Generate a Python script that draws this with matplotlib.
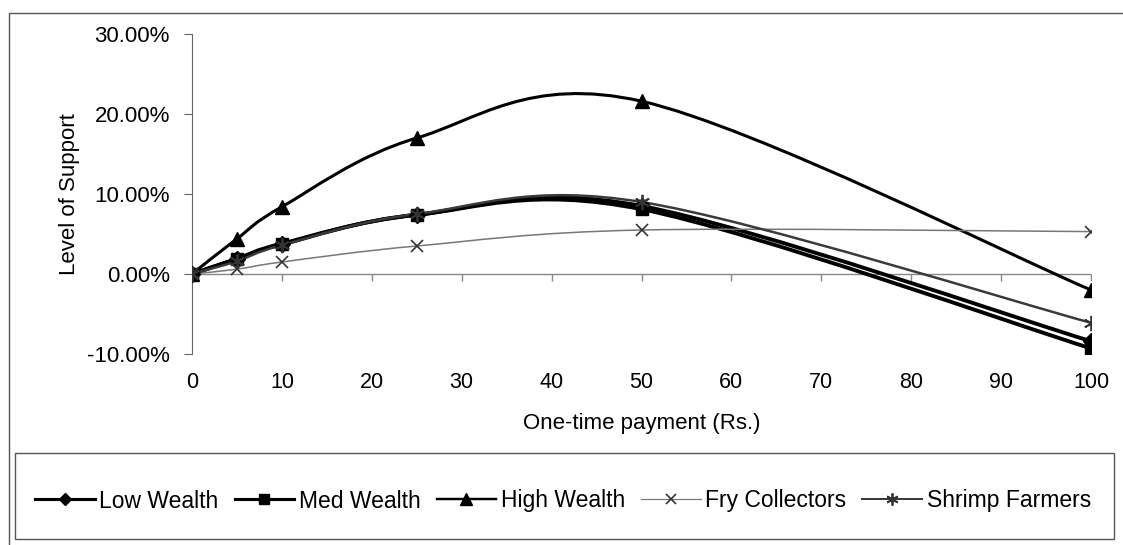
import matplotlib
matplotlib.use("Agg")
import matplotlib.pyplot as plt
from matplotlib.path import Path
from matplotlib.patches import PathPatch, Rectangle
from matplotlib.lines import Line2D
from matplotlib.ticker import FuncFormatter

plt.rcParams['font.family'] = ['Liberation Sans', 'DejaVu Sans']

# one-time payment (Rs.)
payment = [0, 5, 10, 25, 50, 100]
# level of support (%)
low_wealth = [0.0, 1.9, 3.8, 7.4, 8.5, -8.4]
med_wealth = [0.0, 1.9, 3.7, 7.4, 8.1, -9.3]
high_wealth = [0.0, 4.4, 8.4, 17.0, 21.6, -2.0]
fry_collectors = [0.0, 0.6, 1.5, 3.5, 5.5, 5.3]
shrimp_farmers = [0.0, 1.6, 3.6, 7.5, 9.0, -6.1]

series_names = ['Low Wealth', 'Med Wealth', 'High Wealth', 'Fry Collectors', 'Shrimp Farmers']
series_values = [low_wealth, med_wealth, high_wealth, fry_collectors, shrimp_farmers]
y_ticks = [-10, 0, 10, 20, 30]
x_ticks = [0, 10, 20, 30, 40, 50, 60, 70, 80, 90, 100]

styles = [
    dict(color='black', lw=2.8, marker='D', ms=8, mfc='black', mec='black'),
    dict(color='black', lw=2.8, marker='s', ms=9, mfc='black', mec='black'),
    dict(color='black', lw=2.2, marker='^', ms=10, mfc='black', mec='black'),
    dict(color='#777777', lw=1.1, marker='x', ms=9, mfc='none', mec='#333333', mew=1.2),
    dict(color='#3a3a3a', lw=1.8, marker=(6, 2, 0), ms=11, mfc='none', mec='#333333', mew=1.3),
]


def smooth_path(xs, ys):
    # Excel-style smoothed line: cubic bezier through every point
    pts = list(zip(xs, ys))
    n = len(pts)
    verts = [pts[0]]
    codes = [Path.MOVETO]
    for i in range(n - 1):
        p0 = pts[i - 1] if i > 0 else pts[i]
        p1 = pts[i]
        p2 = pts[i + 1]
        p3 = pts[i + 2] if i + 2 < n else pts[i + 1]
        c1 = (p1[0] + (p2[0] - p0[0]) / 6, p1[1] + (p2[1] - p0[1]) / 6)
        c2 = (p2[0] - (p3[0] - p1[0]) / 6, p2[1] - (p3[1] - p1[1]) / 6)
        verts += [c1, c2, p2]
        codes += [Path.CURVE4] * 3
    return Path(verts, codes)


fig = plt.figure(figsize=(11.23, 5.45), dpi=100)
ax = fig.add_axes([192 / 1123, 1 - 354 / 545, (1091 - 192) / 1123, 320 / 545])

ax.axhline(0, color='#888888', lw=1.0, zorder=1)
ax.plot(x_ticks[1:], [0] * (len(x_ticks) - 1), ls='none', marker=3,
        ms=5, color='#888888', zorder=1)

for name, vals, st in zip(series_names, series_values, styles):
    ax.add_patch(PathPatch(smooth_path(payment, vals), fill=False,
                           edgecolor=st['color'], lw=st['lw'], zorder=2))
    ax.plot(payment, vals, ls='none', marker=st['marker'], ms=st['ms'],
            mfc=st['mfc'], mec=st['mec'], mew=st.get('mew', 1), zorder=3)

ax.set_xlim(0, 100)
ax.set_ylim(-10, 30)
ax.set_yticks(y_ticks)
ax.yaxis.set_major_formatter(FuncFormatter(lambda v, p: '{:.2f}%'.format(v)))
ax.set_xticks(x_ticks)
for s in ['top', 'right', 'bottom']:
    ax.spines[s].set_visible(False)
ax.spines['left'].set_color('#666666')
ax.tick_params(axis='y', length=6, color='#666666', labelsize=16, pad=10)
ax.tick_params(axis='x', length=0, labelsize=15.5, pad=13)

ax.set_ylabel('Level of Support', fontsize=16, labelpad=5)
ax.set_xlabel('One-time payment (Rs.)', fontsize=16, labelpad=14)

# outer chart border and legend box
fig.add_artist(Rectangle((9 / 1123, -0.1), 1.2, 1.1 - 13 / 545, transform=fig.transFigure,
                         fill=False, edgecolor='#555555', lw=1.0))
fig.add_artist(Rectangle((15 / 1123, 1 - 539 / 545), (1114 - 15) / 1123, 86 / 545,
                         transform=fig.transFigure, fill=False, edgecolor='#555555', lw=1.0))

handles = [Line2D([], [], color=st['color'], lw=st['lw'] * 0.8, marker=st['marker'],
                  ms=st['ms'] * 0.8, mfc=st['mfc'], mec=st['mec'], mew=st.get('mew', 1))
           for st in styles]
fig.legend(handles, series_names, loc='center', bbox_to_anchor=(563 / 1123, 1 - 501 / 545),
           ncol=5, frameon=False, fontsize=16.5, handlelength=2.6, handletextpad=0.2,
           columnspacing=0.7)

fig.savefig('out.png', dpi=100)
